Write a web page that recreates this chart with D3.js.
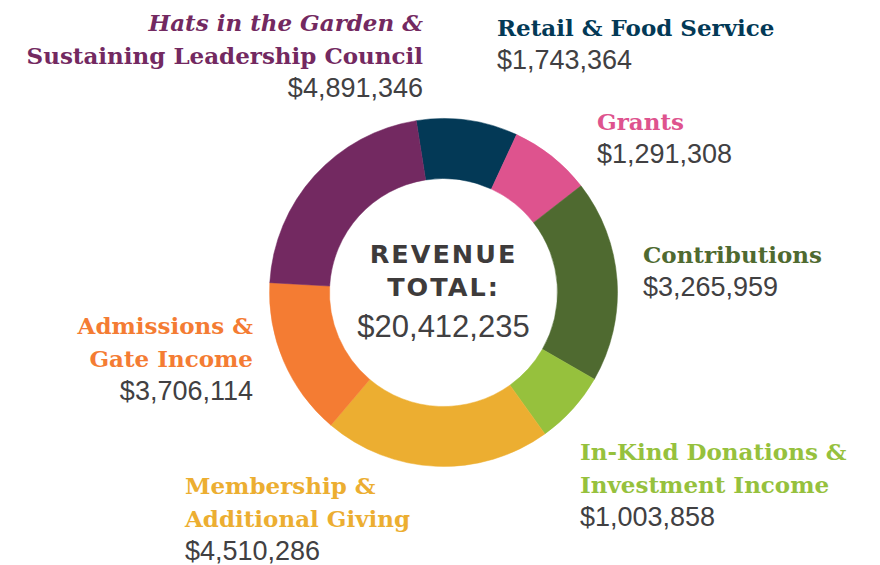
<!DOCTYPE html>
<html>
<head>
<meta charset="utf-8">
<script src="https://cdn.jsdelivr.net/npm/d3@7/dist/d3.min.js"></script>
<style>
  body { margin: 0; background: #fff; }
  svg { display: block; }
  .title { font-family: "DejaVu Serif", serif; font-weight: bold; }
  .amount { font-family: "Liberation Sans", Arial, sans-serif; fill: #414042; }
</style>
</head>
<body>
<script>
// revenue sources, clockwise from the top
var categories = [
    "Retail & Food Service",
    "Grants",
    "Contributions",
    "In-Kind Donations & Investment Income",
    "Membership & Additional Giving",
    "Admissions & Gate Income",
    "Hats in the Garden & Sustaining Leadership Council"
];
var titleLines = [
    ["Retail & Food Service"],
    ["Grants"],
    ["Contributions"],
    ["In-Kind Donations &", "Investment Income"],
    ["Membership &", "Additional Giving"],
    ["Admissions &", "Gate Income"],
    ["Hats in the Garden &", "Sustaining Leadership Council"]
];
var amounts = [1743364, 1291308, 3265959, 1003858, 4510286, 3706114, 4891346];
// slice share (% of ring) as drawn in the picture, which is not strictly proportional
var arcShare = [9.4, 7.6, 18.8, 6.8, 21.1, 14.7, 21.6];
var colors = ["#033956", "#de538e", "#4f6a30", "#96c13d", "#ecae31", "#f47c33", "#732961"];
var totalLabel = ["REVENUE", "TOTAL:"];
var total = 20412235;

var width = 880;
var height = 565;
var cx = 443.5, cy = 292.5;
var outerR = 174, innerR = 114;
var lineH = 33;

// label anchors: x, anchor, first baseline
var labelPos = [
    {x: 497, anchor: "start", y: 36},
    {x: 597, anchor: "start", y: 130},
    {x: 643, anchor: "start", y: 263},
    {x: 580, anchor: "start", y: 460},
    {x: 185, anchor: "start", y: 494},
    {x: 253, anchor: "end", y: 334},
    {x: 423, anchor: "end", y: 31}
];

var fmt = d3.format("$,");

var svg = d3.select("body")
    .append("svg")
    .attr("width", width)
    .attr("height", height);

var pie = d3.pie()
    .sort(null)
    .value(function(d) { return d; })
    .startAngle(-9 * Math.PI / 180)
    .endAngle(351 * Math.PI / 180);

var arc = d3.arc()
    .innerRadius(innerR)
    .outerRadius(outerR);

var ring = svg.append("g")
    .attr("transform", "translate(" + cx + "," + cy + ")");

ring.selectAll("path")
    .data(pie(arcShare))
    .enter()
    .append("path")
    .attr("d", arc)
    .attr("fill", function(d, i) { return colors[i]; })
    .attr("stroke", function(d, i) { return colors[i]; })
    .attr("stroke-width", 0.5);

// center text
ring.selectAll(".tot")
    .data(totalLabel)
    .enter()
    .append("text")
    .attr("class", "tot")
    .attr("x", 0)
    .attr("y", function(d, i) { return -30 + i * 33; })
    .attr("text-anchor", "middle")
    .style("font-family", "'DejaVu Sans', sans-serif")
    .style("font-weight", "bold")
    .style("font-size", "25.5px")
    .style("letter-spacing", "2px")
    .style("fill", "#3e3b3b")
    .text(function(d) { return d; });

ring.append("text")
    .attr("class", "amount")
    .attr("x", 0)
    .attr("y", 44.5)
    .attr("text-anchor", "middle")
    .style("font-size", "31px")
    .text(fmt(total));

// labels
var labels = svg.selectAll(".label")
    .data(categories)
    .enter()
    .append("g")
    .attr("class", "label");

labels.each(function(name, i) {
    var g = d3.select(this);
    var p = labelPos[i];
    var lines = titleLines[i];
    lines.forEach(function(line, j) {
        var t = g.append("text")
            .attr("class", "title")
            .attr("x", p.x)
            .attr("y", p.y + j * lineH)
            .attr("text-anchor", p.anchor)
            .style("font-size", "23px")
            .style("fill", colors[i])
            .text(line);
        if (i === 6 && j === 0) t.style("font-style", "italic");
    });
    g.append("text")
        .attr("class", "amount")
        .attr("x", p.x)
        .attr("y", p.y + lines.length * lineH)
        .attr("text-anchor", p.anchor)
        .style("font-size", "27px")
        .text(fmt(amounts[i]));
});
</script>
</body>
</html>
